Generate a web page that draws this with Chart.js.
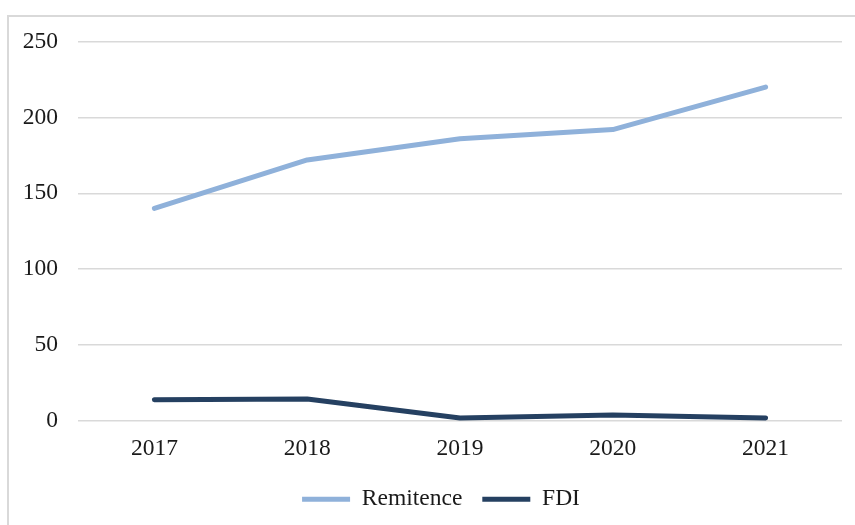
<!DOCTYPE html>
<html>
<head>
<meta charset="utf-8">
<script src="https://cdn.jsdelivr.net/npm/chart.js@4/dist/chart.umd.min.js"></script>
<style>
  html, body { margin: 0; padding: 0; background: #fff; }
  #wrap { position: relative; width: 855px; height: 525px; overflow: hidden; }
  #frame { position: absolute; left: 7px; top: 15px; width: 900px; height: 600px;
           border-left: 2px solid #d9d9d9; border-top: 2px solid #d9d9d9; box-sizing: border-box; }
  canvas { position: absolute; left: 0; top: 0; }
</style>
</head>
<body>
<div id="wrap">
  <div id="frame"></div>
  <canvas id="c" width="855" height="525"></canvas>
</div>
<script>
const categories = ['2017', '2018', '2019', '2020', '2021'];
const remitence = [140, 172, 186, 192, 220];
const fdi = [14, 14.5, 2, 4, 2];
const yTicks = [0, 50, 100, 150, 200, 250];

const font = { family: '"Liberation Serif", "Times New Roman", serif', size: 23.5 };
const textColor = '#1a1a1a';

const shiftLegend = {
  id: 'shiftLegend',
  afterLayout(chart) {
    if (chart.legend) { chart.legend.left = 40; }
  }
};

new Chart(document.getElementById('c'), {
  type: 'line',
  data: {
    labels: categories,
    datasets: [
      { label: 'Remitence', data: remitence, borderColor: '#8FB1DA', backgroundColor: '#8FB1DA',
        borderWidth: 5, pointRadius: 0, tension: 0, borderCapStyle: 'round', borderJoinStyle: 'round', pointStyle: 'line' },
      { label: 'FDI', data: fdi, borderColor: '#254061', backgroundColor: '#254061',
        borderWidth: 5, pointRadius: 0, tension: 0, borderCapStyle: 'round', borderJoinStyle: 'round', pointStyle: 'line' }
    ]
  },
  plugins: [shiftLegend],
  options: {
    responsive: false,
    animation: false,
    layout: { padding: { top: 41.5, right: 13, left: 0, bottom: 4 } },
    plugins: {
      tooltip: { enabled: false },
      legend: {
        position: 'bottom',
        labels: { usePointStyle: true, pointStyleWidth: 48, font: font, color: textColor, padding: 20 }
      }
    },
    scales: {
      x: {
        offset: true,
        afterFit: (axis) => { axis.height = 46.5; },
        grid: { display: false, drawTicks: false },
        border: { display: false },
        ticks: { font: font, color: textColor, padding: 14, maxRotation: 0 }
      },
      y: {
        min: 0, max: 250,
        afterFit: (axis) => { axis.width = 78; },
        afterBuildTicks: (axis) => { axis.ticks = yTicks.map(v => ({ value: v })); },
        grid: { color: '#d9d9d9', lineWidth: 1.5, drawTicks: false },
        border: { display: false },
        ticks: { font: font, color: textColor, padding: 20 }
      }
    }
  }
});
</script>
</body>
</html>
